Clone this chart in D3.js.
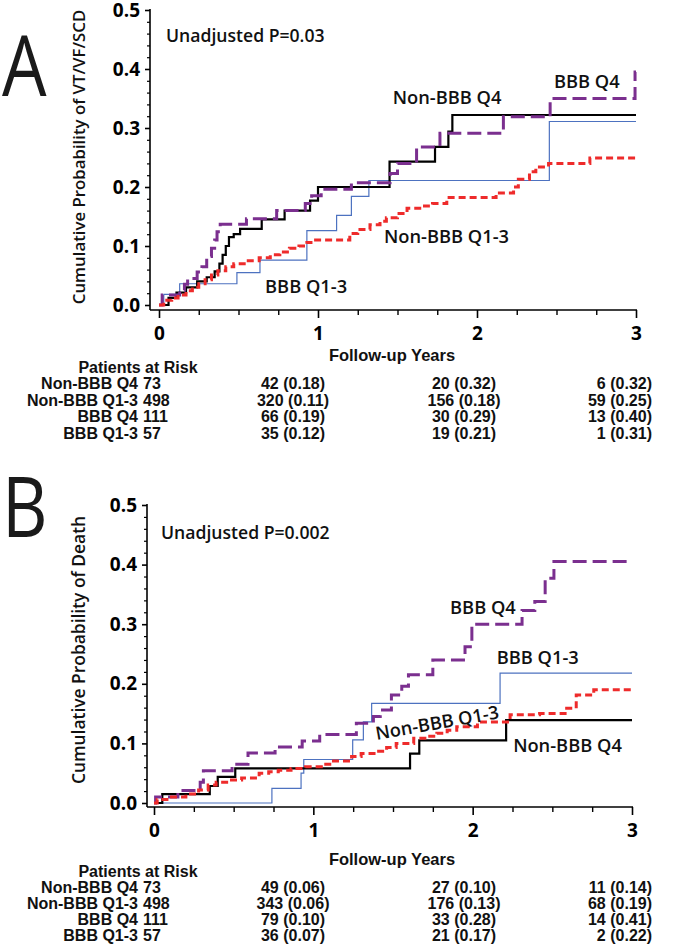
<!DOCTYPE html>
<html><head><meta charset="utf-8">
<script src="https://cdn.jsdelivr.net/npm/d3@7"></script>
<style>body{margin:0;background:#fff}</style>
</head><body>
<svg id="c" width="679" height="951" xmlns="http://www.w3.org/2000/svg"></svg>
<script>
// ---------- data ----------
const groups = ["Non-BBB Q4", "Non-BBB Q1-3", "BBB Q4", "BBB Q1-3"];
const yearTicks = [0, 1, 2, 3];
const probTicks = [0, 0.1, 0.2, 0.3, 0.4, 0.5];

// Panel A: VT/VF/SCD (event times in years, cumulative probability after each step)
const A_nonQ4_t = [0.06,0.11,0.17,0.24,0.30,0.35,0.38,0.40,0.42,0.44,0.47,0.51,0.646,0.79,0.95,1.0,1.45,1.736,1.82,1.845];
const A_nonQ4_p = [0.012,0.021,0.03,0.04,0.047,0.057,0.07,0.085,0.10,0.115,0.12,0.129,0.145,0.16,0.177,0.20,0.243,0.268,0.294,0.322];
const A_nonQ13_t = [0.03,0.08,0.12,0.17,0.21,0.25,0.29,0.33,0.37,0.42,0.47,0.55,0.63,0.70,0.76,0.82,0.88,0.93,0.97,1.2,1.25,1.327,1.39,1.43,1.5,1.56,1.67,1.72,1.81,2.12,2.23,2.26,2.33,2.37,2.45,2.71];
const A_nonQ13_p = [0.008,0.012,0.017,0.024,0.03,0.036,0.043,0.051,0.058,0.065,0.07,0.075,0.08,0.085,0.09,0.096,0.10,0.106,0.11,0.121,0.128,0.136,0.142,0.148,0.155,0.164,0.168,0.172,0.182,0.19,0.20,0.213,0.226,0.234,0.24,0.249];
const A_bbbQ4_t = [0.02,0.13,0.16,0.18,0.24,0.27,0.30,0.33,0.35,0.365,0.385,0.55,0.74,0.92,0.96,1.02,1.21,1.453,1.50,1.62,1.767,2.166,2.46,2.994];
const A_bbbQ4_p = [0.017,0.025,0.035,0.045,0.056,0.065,0.082,0.096,0.11,0.124,0.137,0.146,0.16,0.172,0.185,0.196,0.207,0.223,0.24,0.268,0.291,0.319,0.35,0.395];
const A_bbbQ13_t = [0.03,0.13,0.49,0.635,0.93,1.117,1.21,1.32,2.455];
const A_bbbQ13_p = [0.018,0.036,0.055,0.076,0.126,0.152,0.184,0.211,0.311];

// Panel B: death
const B_nonQ4_t = [0.052,0.35,0.40,0.51,1.607,1.665,2.21];
const B_nonQ4_p = [0.015,0.0285,0.044,0.058,0.083,0.105,0.139];
const B_nonQ13_t = [0.02,0.1,0.2,0.28,0.34,0.39,0.47,0.55,0.66,0.72,0.78,0.86,0.95,1.05,1.115,1.24,1.3,1.4,1.46,1.52,1.63,1.7,1.775,1.84,1.9,2.03,2.235,2.42,2.59,2.65,2.76];
const B_nonQ13_p = [0.006,0.01,0.015,0.022,0.03,0.035,0.0386,0.042,0.05,0.0526,0.055,0.058,0.061,0.065,0.0705,0.078,0.083,0.087,0.093,0.10,0.1085,0.112,0.117,0.122,0.128,0.136,0.148,0.15,0.159,0.181,0.19];
const B_bbbQ4_t = [0.01,0.15,0.29,0.31,0.49,0.59,0.76,0.93,1.04,1.27,1.377,1.42,1.49,1.555,1.597,1.75,1.952,1.995,2.31,2.39,2.455,2.51];
const B_bbbQ4_p = [0.01,0.021,0.035,0.054,0.065,0.084,0.094,0.104,0.115,0.134,0.145,0.156,0.181,0.196,0.215,0.24,0.262,0.30,0.323,0.338,0.377,0.405];
const B_bbbQ13_t = [0.74,0.923,0.94,1.247,1.314,1.366,2.172];
const B_bbbQ13_p = [0.0246,0.05,0.073,0.106,0.136,0.167,0.218];

// Patients at risk tables (counts at 0,1,2,3 years; cumulative probability at 1,2,3 years)
const A_atRisk = [[73,42,20,6],[498,320,156,59],[111,66,30,13],[57,35,19,1]];
const A_cumProb = [[0.18,0.32,0.32],[0.11,0.18,0.25],[0.19,0.29,0.40],[0.12,0.21,0.31]];
const B_atRisk = [[73,49,27,11],[498,343,176,68],[111,79,33,14],[57,36,21,2]];
const B_cumProb = [[0.06,0.10,0.14],[0.06,0.13,0.19],[0.10,0.28,0.41],[0.07,0.17,0.22]];

// ---------- drawing ----------
const svg = d3.select("#c");
const FONT = "'Open Sans', 'DejaVu Sans', sans-serif";
const TFONT = "'Liberation Sans', Arial, sans-serif";

const styles = {
  "Non-BBB Q4":   {color:"#000000", width:2.2, dash:null},
  "Non-BBB Q1-3": {color:"#ee2b2b", width:3, dash:"7,4"},
  "BBB Q4":       {color:"#7b2f8f", width:3, dash:"14,6"},
  "BBB Q1-3":     {color:"#4d72c0", width:1.2, dash:null}
};

function drawPanel(cfg) {
  const g = svg.append("g");
  const x = d3.scaleLinear().domain([0,3]).range([cfg.x0, cfg.x3]);
  const y = d3.scaleLinear().domain([0,0.5]).range([cfg.y0, cfg.y5]);

  // axis lines
  g.append("line").attr("x1",cfg.yAxisX).attr("x2",cfg.yAxisX)
    .attr("y1",y(0.5)-1).attr("y2",cfg.xAxisY).attr("stroke","#000").attr("stroke-width",1.6);
  g.append("line").attr("x1",cfg.yAxisX).attr("x2",x(3)+1)
    .attr("y1",cfg.xAxisY).attr("y2",cfg.xAxisY).attr("stroke","#000").attr("stroke-width",1.6);

  // y ticks
  const yMinor = d3.range(0,0.5001,0.02).filter(v => Math.abs(v*10-Math.round(v*10))>1e-6);
  const ya = g.append("g").attr("transform",`translate(${cfg.yAxisX},0)`)
    .call(d3.axisLeft(y).tickValues(probTicks).tickFormat(d3.format(".1f")).tickSize(5).tickSizeOuter(0).tickPadding(5));
  ya.select(".domain").remove();
  ya.selectAll("line").attr("stroke-width",1.6);
  ya.selectAll("text").attr("font-family",FONT).attr("font-weight",700).attr("font-size",19).attr("fill","#000");
  const ym = g.append("g").attr("transform",`translate(${cfg.yAxisX},0)`)
    .call(d3.axisLeft(y).tickValues(yMinor).tickFormat("").tickSize(3).tickSizeOuter(0));
  ym.select(".domain").remove();
  ym.selectAll("line").attr("stroke-width",1.2);

  // x ticks
  const xa = g.append("g").attr("transform",`translate(0,${cfg.xAxisY})`)
    .call(d3.axisBottom(x).tickValues(yearTicks).tickFormat(d3.format("d")).tickSize(8).tickSizeOuter(0).tickPadding(9));
  xa.select(".domain").remove();
  xa.selectAll("line").attr("stroke-width",1.6);
  xa.selectAll("text").attr("font-family",FONT).attr("font-weight",700).attr("font-size",19).attr("fill","#000");
  const xMinor = d3.range(0,3.001,0.25).filter(v => Math.abs(v-Math.round(v))>1e-6);
  const xm = g.append("g").attr("transform",`translate(0,${cfg.xAxisY})`)
    .call(d3.axisBottom(x).tickValues(xMinor).tickFormat("").tickSize(5).tickSizeOuter(0));
  xm.select(".domain").remove();
  xm.selectAll("line").attr("stroke-width",1.4);

  // curves
  const line = d3.line().x(d=>x(d[0])).y(d=>y(d[1])).curve(d3.curveStepAfter);
  const order = ["BBB Q1-3","Non-BBB Q4","BBB Q4","Non-BBB Q1-3"];
  order.forEach(name => {
    const s = cfg.series[name];
    const pts = [[0,0]].concat(s.t.map((t,i)=>[t,s.p[i]]));
    pts.push([3, s.p[s.p.length-1]]);
    const st = styles[name];
    g.append("path").datum(pts).attr("d",line).attr("fill","none")
      .attr("stroke",st.color).attr("stroke-width",st.width)
      .attr("stroke-dasharray",st.dash).attr("stroke-linejoin","miter");
  });

  // curve labels
  cfg.labels.forEach(l => {
    const t = g.append("text").attr("font-family",FONT).attr("font-weight",600)
      .attr("font-size",l.size||18.3).attr("fill","#111").text(l.text);
    if (l.rot) t.attr("transform",`translate(${x(l.t)},${y(l.p)}) rotate(${l.rot})`);
    else t.attr("x",x(l.t)).attr("y",y(l.p));
  });

  // y title
  g.append("text").attr("transform",`translate(${cfg.titleX},${cfg.titleY}) rotate(-90)`)
    .attr("text-anchor","middle").attr("font-family",FONT).attr("font-weight",600)
    .attr("font-size",cfg.titleSize).attr("fill","#111").text(cfg.yTitle);

  // panel letter
  g.append("text").attr("transform",`translate(${cfg.letterX},${cfg.letterY}) scale(0.84,1)`)
    .attr("font-family",FONT).attr("font-weight",400).attr("font-size",84).attr("fill","#1a1a1a").text(cfg.letter);

  // x title
  g.append("text").attr("x",cfg.fuX).attr("y",cfg.fuY).attr("text-anchor","middle")
    .attr("font-family",TFONT).attr("font-weight",700).attr("font-size",16.5).attr("fill","#111").text("Follow-up Years");

  // risk table
  const T = (txt,xx,yy,anchor) => g.append("text").attr("x",xx).attr("y",yy).attr("text-anchor",anchor)
    .attr("font-family",TFONT).attr("font-weight",700).attr("font-size",16).attr("fill","#111").text(txt);
  T("Patients at Risk", cfg.parX, cfg.parY, "middle");
  groups.forEach((gname,i) => {
    const yy = cfg.rowY[i];
    T(gname, cfg.labelRight, yy, "end");
    T(String(cfg.atRisk[i][0]), cfg.labelRight+5, yy, "start");
    for (let k=1;k<4;k++) {
      T(`${cfg.atRisk[i][k]} (${cfg.cumProb[i][k-1].toFixed(2)})`, cfg.colX[k-1], yy, cfg.colAnchor[k-1]);
    }
  });
}

drawPanel({
  letter:"A", letterX:2, letterY:96,
  x0:159, x3:636, y0:305, y5:10, yAxisX:150, xAxisY:310,
  yTitle:"Cumulative Probability of VT/VF/SCD", titleX:85, titleY:157, titleSize:16.8,
  series:{
    "Non-BBB Q4":{t:A_nonQ4_t,p:A_nonQ4_p},
    "Non-BBB Q1-3":{t:A_nonQ13_t,p:A_nonQ13_p},
    "BBB Q4":{t:A_bbbQ4_t,p:A_bbbQ4_p},
    "BBB Q1-3":{t:A_bbbQ13_t,p:A_bbbQ13_p}
  },
  labels:[
    {text:"Unadjusted P=0.03", t:0.044, p:0.446, size:17.6},
    {text:"Non-BBB Q4", t:1.47, p:0.340},
    {text:"BBB Q4", t:2.484, p:0.367},
    {text:"Non-BBB Q1-3", t:1.415, p:0.1056},
    {text:"BBB Q1-3", t:0.667, p:0.0208}
  ],
  fuX:392, fuY:361,
  parX:138, parY:373,
  rowY:[389,405.5,422,438.5],
  labelRight:138,
  colX:[293,464,652], colAnchor:["middle","middle","end"],
  atRisk:A_atRisk, cumProb:A_cumProb
});

drawPanel({
  letter:"B", letterX:2, letterY:537,
  x0:154, x3:632, y0:803, y5:505, yAxisX:147, xAxisY:807,
  yTitle:"Cumulative Probability of Death", titleX:85, titleY:650, titleSize:17.4,
  series:{
    "Non-BBB Q4":{t:B_nonQ4_t,p:B_nonQ4_p},
    "Non-BBB Q1-3":{t:B_nonQ13_t,p:B_nonQ13_p},
    "BBB Q4":{t:B_bbbQ4_t,p:B_bbbQ4_p},
    "BBB Q1-3":{t:B_bbbQ13_t,p:B_bbbQ13_p}
  },
  labels:[
    {text:"Unadjusted P=0.002", t:0.044, p:0.4425, size:17.6},
    {text:"BBB Q4", t:1.858, p:0.317},
    {text:"BBB Q1-3", t:2.151, p:0.233},
    {text:"Non-BBB Q1-3", t:1.398, p:0.1057, rot:-10},
    {text:"Non-BBB Q4", t:2.254, p:0.086}
  ],
  fuX:392, fuY:865,
  parX:138, parY:877,
  rowY:[893,909,925,940.5],
  labelRight:138,
  colX:[293,464,652], colAnchor:["middle","middle","end"],
  atRisk:B_atRisk, cumProb:B_cumProb
});
</script>
</body></html>
